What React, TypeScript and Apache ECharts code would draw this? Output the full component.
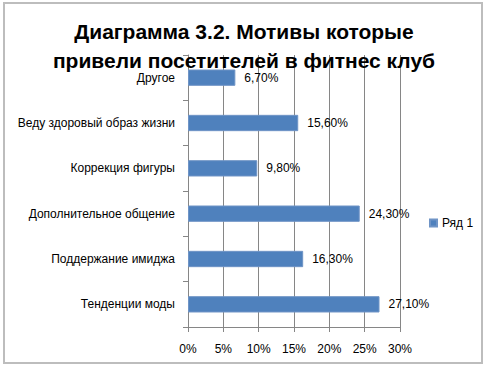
import React, { useEffect, useRef } from "react";
import * as echarts from "echarts";

const categories = [
  "Тенденции моды",
  "Поддержание имиджа",
  "Дополнительное общение",
  "Коррекция фигуры",
  "Веду здоровый образ жизни",
  "Другое",
];
const values = [27.1, 16.3, 24.3, 9.8, 15.6, 6.7];
const seriesName = "Ряд 1";
const titleLines = ["Диаграмма 3.2. Мотивы которые", "привели посетителей в фитнес клуб"];

const FONT = "'Liberation Sans', Arial, sans-serif";

export default function App() {
  const ref = useRef<HTMLDivElement>(null);
  useEffect(() => {
    document.body.style.margin = "0";
    const chart = echarts.init(ref.current!, null, { renderer: "svg" });
    const titleStyle = {
      fontFamily: FONT,
      fontSize: 21,
      fontWeight: "bold",
      fill: "#000000",
      textAlign: "center",
      textVerticalAlign: "middle",
    };
    chart.setOption({
      animation: false,
      backgroundColor: "#ffffff",
      legend: {
        data: [seriesName],
        left: 424,
        top: 212,
        icon: "rect",
        itemWidth: 7,
        itemHeight: 7,
        itemGap: 5,
        textStyle: { fontFamily: FONT, fontSize: 12, color: "#000" },
      },
      grid: { left: 188, right: 89, top: 55, bottom: 43, containLabel: false },
      xAxis: {
        type: "value",
        min: 0,
        max: 30,
        interval: 5,
        axisLine: { show: true, lineStyle: { color: "#868686", width: 1 } },
        axisTick: { show: true, length: 5, lineStyle: { color: "#868686" } },
        axisLabel: {
          formatter: (v: number) => v + "%",
          fontFamily: FONT,
          fontSize: 12,
          color: "#000",
          margin: 16,
        },
        splitLine: { show: true, lineStyle: { color: "#868686", width: 1 } },
      },
      yAxis: {
        type: "category",
        data: categories,
        axisLine: { show: true, lineStyle: { color: "#868686", width: 1 } },
        axisTick: { show: true, length: 5, lineStyle: { color: "#868686" } },
        axisLabel: {
          fontFamily: FONT,
          fontSize: 12,
          color: "#000",
          margin: 13,
        },
      },
      series: [
        {
          name: seriesName,
          type: "bar",
          data: values,
          barCategoryGap: "64%",
          itemStyle: { color: "#4f81bd", borderColor: "#6f94c6", borderWidth: 1 },
          label: {
            show: true,
            position: "right",
            distance: 9,
            fontFamily: FONT,
            fontSize: 12,
            color: "#000",
            formatter: (p: any) => p.value.toFixed(2).replace(".", ",") + "%",
          },
        },
      ],
      graphic: [
        {
          type: "rect",
          shape: { x: 4, y: 3, width: 478, height: 360 },
          style: { fill: "none", stroke: "#bdbdbd", lineWidth: 2 },
          silent: true,
        },
        {
          type: "text",
          x: 244,
          y: 31,
          style: { ...titleStyle, text: titleLines[0] },
          z: 10,
        },
        {
          type: "text",
          x: 244,
          y: 60,
          style: { ...titleStyle, text: titleLines[1] },
          z: 10,
        },
      ],
    });
    return () => chart.dispose();
  }, []);
  return <div ref={ref} style={{ width: 489, height: 370 }} />;
}
